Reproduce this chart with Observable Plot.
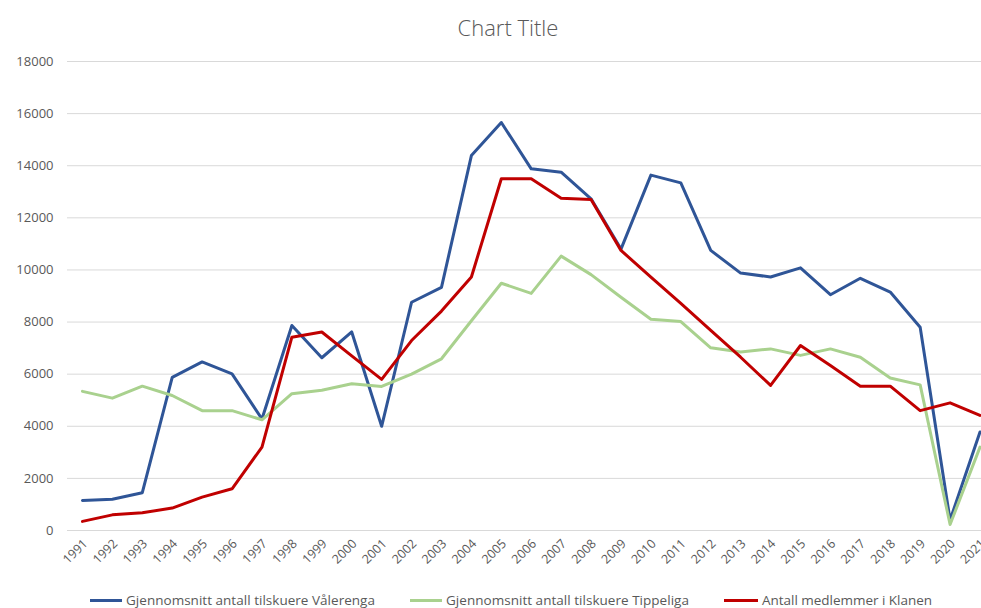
<!DOCTYPE html>
<html>
<head>
<meta charset="utf-8">
<script src="https://cdn.jsdelivr.net/npm/d3@7"></script>
<script src="https://cdn.jsdelivr.net/npm/@observablehq/plot@0.6"></script>
<style>
  html, body { margin: 0; padding: 0; background: #fff; overflow: hidden; width: 981px; height: 608px; }
  #title { height: 52px; line-height: 54px; text-align: center; padding-left: 35px; font-family: "Open Sans", sans-serif; font-weight: 300; font-size: 22px; color: #595959; }
  #chart svg { display: block; overflow: visible; }
  #legend { display: block; }
</style>
</head>
<body>
<div id="title">Chart Title</div>
<div id="chart"></div>
<svg id="legend" width="981" height="28"></svg>
<script>
const years = [1991,1992,1993,1994,1995,1996,1997,1998,1999,2000,2001,2002,2003,2004,2005,2006,2007,2008,2009,2010,2011,2012,2013,2014,2015,2016,2017,2018,2019,2020,2021];
const valerenga = [1150,1200,1450,5880,6470,6010,4280,7870,6630,7620,4000,8760,9330,14390,15660,13880,13750,12730,10800,13640,13340,10750,9880,9730,10080,9050,9680,9150,7800,400,3780];
const tippeliga = [5340,5080,5540,5180,4600,4600,4250,5250,5380,5630,5530,6000,6590,8050,9490,9100,10530,9820,8950,8110,8020,7010,6850,6970,6720,6970,6650,5850,5590,230,3200];
const klanen = [350,600,680,860,1280,1600,3200,7420,7620,6700,5800,7290,8420,9730,13500,13500,12750,12700,10750,9720,8720,7680,6650,5570,7100,6330,5540,5540,4600,4900,4420];
const seriesNames = ["Gjennomsnitt antall tilskuere Vålerenga","Gjennomsnitt antall tilskuere Tippeliga","Antall medlemmer i Klanen"];
const seriesColors = ["#2F5597","#A9D18E","#C00000"];
const yTicks = [0,2000,4000,6000,8000,10000,12000,14000,16000,18000];

const rows = [];
[valerenga, tippeliga, klanen].forEach((arr, s) => {
  arr.forEach((v, i) => rows.push({year: years[i], value: v, series: seriesNames[s]}));
});

const chart = Plot.plot({
  width: 981,
  height: 528,
  marginLeft: 67,
  marginRight: 0,
  marginTop: 9,
  marginBottom: 50,
  style: {fontFamily: "'Open Sans', sans-serif", fontSize: "13px", color: "#595959", background: "white"},
  x: {domain: [1990.5, 2021.05]},
  y: {domain: [0, 18000]},
  color: {domain: seriesNames, range: seriesColors},
  marks: [
    Plot.ruleY(yTicks, {stroke: "#d9d9d9", strokeWidth: 1}),
    Plot.axisY({ticks: yTicks, tickSize: 0, tickPadding: 14, tickFormat: d => String(d), label: null}),
    Plot.axisX({ticks: years, tickSize: 0, tickPadding: 11, tickRotate: -45, tickFormat: d => String(d), label: null, fontSize: 12.5, dx: 3}),
    Plot.line(rows, {x: "year", y: "value", z: "series", stroke: "series", strokeWidth: 3, strokeLinejoin: "round", strokeLinecap: "round"})
  ]
});
document.getElementById("chart").appendChild(chart);

// legend
const legendItems = [
  {swatch: [90, 122], textX: 126, len: 249},
  {swatch: [410, 442], textX: 446, len: 243},
  {swatch: [724, 758], textX: 762, len: 170}
];
const leg = d3.select("#legend");
legendItems.forEach((it, i) => {
  leg.append("line").attr("x1", it.swatch[0]).attr("x2", it.swatch[1]).attr("y1", 20.5).attr("y2", 20.5)
    .attr("stroke", seriesColors[i]).attr("stroke-width", 3);
  leg.append("text").attr("x", it.textX).attr("y", 20).attr("dy", "0.35em")
    .attr("textLength", it.len).attr("lengthAdjust", "spacing")
    .attr("font-family", "'Open Sans', sans-serif").attr("font-size", 13.5).attr("fill", "#595959")
    .text(seriesNames[i]);
});
</script>
</body>
</html>
